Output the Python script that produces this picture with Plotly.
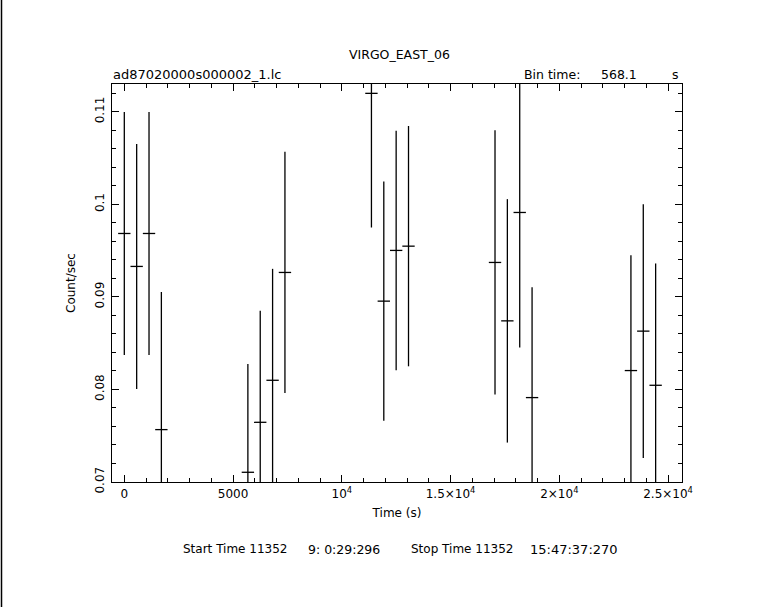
import plotly.graph_objects as go

# ---- data ----
time_s = [0, 568, 1136, 1704, 5681, 6249, 6817, 7385, 11362, 11930, 12498,
          13066, 17043, 17611, 18179, 18747, 23292, 23860, 24428]
rate = [0.09685, 0.09329, 0.09685, 0.07566, 0.07105, 0.07645, 0.08099, 0.09264,
        0.11199, 0.08954, 0.09502, 0.09548, 0.09372, 0.08741, 0.09912, 0.07912,
        0.08204, 0.08630, 0.08045]
rate_err = [0.01312, 0.01323, 0.01312, 0.01488, 0.0117, 0.01204, 0.01204, 0.01303,
            0.0145, 0.01293, 0.01294, 0.01298, 0.01427, 0.01315, 0.01459, 0.01193,
            0.01247, 0.01371, 0.01316]
half_bin = 284.05

x_tickvals = [0, 5000, 10000, 15000, 20000, 25000]
x_ticktext = ["0", "5000", "10<sup>4</sup>", "1.5×10<sup>4</sup>",
              "2×10<sup>4</sup>", "2.5×10<sup>4</sup>"]
y_tickvals = [0.07, 0.08, 0.09, 0.1, 0.11]
y_ticktext = ["0.07", "0.08", "0.09", "0.1", "0.11"]

title_text = "VIRGO_EAST_06"
file_text = "ad87020000s000002_1.lc"
bin_label = "Bin time:"
bin_value = "568.1"
bin_unit = "s"
footer_parts = ["Start Time 11352", "9: 0:29:296", "Stop Time 11352", "15:47:37:270"]

FONT = "DejaVu Sans"
W, H = 757, 607
ML, MR, MT, MB = 112, 75, 84, 125
PW = W - ML - MR
PH = H - MT - MB


def px_x(px):
    return (px - ML) / PW


def px_y(py):
    return (H - MB - py) / PH


fig = go.Figure()
fig.add_trace(go.Scatter(
    x=time_s, y=rate, mode="markers",
    marker=dict(size=0.1, color="black", opacity=0),
    error_y=dict(type="data", array=rate_err, visible=True, color="black",
                 thickness=1.3, width=0),
    error_x=dict(type="constant", value=half_bin, visible=True, color="black",
                 thickness=1.3, width=0),
    showlegend=False, hoverinfo="skip",
))

axis_common = dict(
    showline=True, linecolor="black", linewidth=1.3, mirror="allticks",
    ticks="inside", ticklen=7, tickwidth=1.2, tickcolor="black",
    showgrid=False, zeroline=False,
    tickfont=dict(family=FONT, size=12, color="black"),
)

fig.update_xaxes(
    range=[-566, 25640], tickvals=x_tickvals, ticktext=x_ticktext,
    minor=dict(dtick=1000, tick0=0, ticks="inside", ticklen=4, tickcolor="black",
               tickwidth=1.2, showgrid=False),
    title=dict(text="Time (s)", font=dict(family=FONT, size=12, color="black"),
               standoff=9),
    **axis_common,
)
fig.update_yaxes(
    range=[0.07, 0.113], tickvals=y_tickvals, ticktext=y_ticktext, tickangle=-90,
    ticklabelstandoff=2,
    minor=dict(dtick=0.002, tick0=0.07, ticks="inside", ticklen=4, tickcolor="black",
               tickwidth=1.2, showgrid=False),
    title=dict(text="Count/sec", font=dict(family=FONT, size=12, color="black"),
               standoff=14),
    **axis_common,
)


def ann(text, x, y, xanchor, size=12):
    return dict(text=text, x=px_x(x), y=px_y(y), xanchor=xanchor, yanchor="middle",
                xref="paper", yref="paper", showarrow=False,
                font=dict(family=FONT, size=size, color="black"))


annotations = [
    ann(title_text, 399, 55, "center", 12.5),
    ann(file_text, 111, 74, "left", 13),
    ann(bin_label, 522, 74, "left", 12.5),
    ann(bin_value, 639, 74, "right", 12.5),
    ann(bin_unit, 681, 74, "right", 12.5),
    ann(footer_parts[0], 181, 549, "left", 12),
    ann(footer_parts[1], 306, 549, "left", 12.5),
    ann(footer_parts[2], 409, 549, "left", 12),
    ann(footer_parts[3], 528, 549, "left", 13),
]

fig.update_layout(
    width=W, height=H,
    margin=dict(l=ML, r=MR, t=MT, b=MB, pad=0, autoexpand=False),
    paper_bgcolor="white", plot_bgcolor="white",
    annotations=annotations,
    shapes=[dict(type="line", xref="paper", yref="paper",
                 x0=px_x(1.5), x1=px_x(1.5), y0=px_y(0), y1=px_y(H),
                 line=dict(color="black", width=1.5))],
    font=dict(family=FONT, size=12, color="black"),
)

fig.write_html("out.html", config={"displayModeBar": False},
               post_script="document.body.style.margin='0';document.body.style.overflow='hidden';")
